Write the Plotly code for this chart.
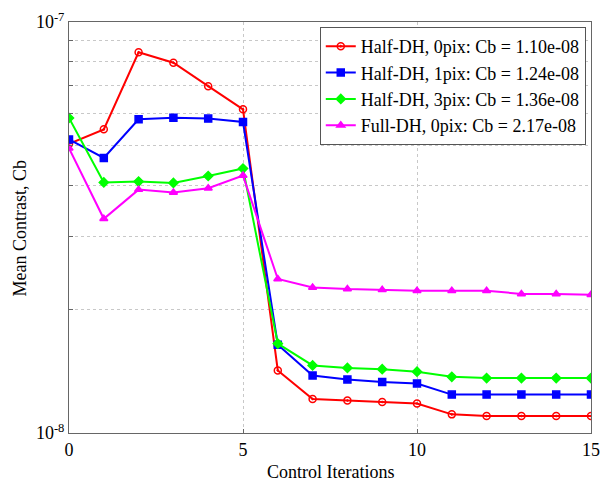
import plotly.graph_objects as go

iters = list(range(16))
red = [5.05e-8, 5.48e-8, 8.44e-8, 7.96e-8, 6.98e-8, 6.13e-8, 1.42e-8, 1.21e-8, 1.20e-8, 1.19e-8, 1.18e-8, 1.11e-8, 1.10e-8, 1.10e-8, 1.10e-8, 1.10e-8]
blue = [5.18e-8, 4.67e-8, 5.80e-8, 5.85e-8, 5.82e-8, 5.71e-8, 1.64e-8, 1.38e-8, 1.35e-8, 1.33e-8, 1.32e-8, 1.24e-8, 1.24e-8, 1.24e-8, 1.24e-8, 1.24e-8]
green = [5.84e-8, 4.07e-8, 4.09e-8, 4.06e-8, 4.22e-8, 4.40e-8, 1.65e-8, 1.46e-8, 1.44e-8, 1.43e-8, 1.41e-8, 1.37e-8, 1.36e-8, 1.36e-8, 1.36e-8, 1.36e-8]
magenta = [4.93e-8, 3.32e-8, 3.91e-8, 3.85e-8, 3.94e-8, 4.23e-8, 2.37e-8, 2.26e-8, 2.24e-8, 2.23e-8, 2.22e-8, 2.22e-8, 2.22e-8, 2.18e-8, 2.18e-8, 2.17e-8]
names = ["Half-DH, 0pix: Cb = 1.10e-08", "Half-DH, 1pix: Cb = 1.24e-08",
         "Half-DH, 3pix: Cb = 1.36e-08", "Full-DH, 0pix: Cb = 2.17e-08"]
colors = ["#ff0000", "#0000ff", "#00ff00", "#ff00ff"]
symbols = ["circle-open-dot", "square", "diamond", "triangle-up"]
ytickvals = [1e-8, 2e-8, 3e-8, 4e-8, 5e-8, 6e-8, 7e-8, 8e-8, 9e-8, 1e-7]
yticktext = ["10<sup>-8</sup>", "", "", "", "", "", "", "", "", "10<sup>-7</sup>"]
xtickvals = [0, 5, 10, 15]
ytitle = "Mean Contrast, Cb"
xtitle = "Control Iterations"

font = "Liberation Serif, Times New Roman, serif"
fig = go.Figure()
for ys, nm, c, s in zip([red, blue, green, magenta], names, colors, symbols):
    fig.add_trace(go.Scatter(
        x=iters, y=ys, name=nm, mode="lines+markers",
        line=dict(color=c, width=2),
        marker=dict(color=c, symbol=s, size=7, line=dict(color=c, width=1.5)),
    ))

axis_common = dict(showline=True, linecolor="#666666", linewidth=1, mirror=True,
                   ticks="inside", ticklen=4, tickcolor="#666666",
                   showgrid=True, gridcolor="#c8c8c8", griddash="dot", gridwidth=1,
                   zeroline=False, automargin=False,
                   tickfont=dict(family=font, size=18, color="black"))

fig.update_layout(
    width=600, height=483,
    margin=dict(l=69, r=9, t=22, b=50),
    paper_bgcolor="white", plot_bgcolor="white",
    font=dict(family=font, size=18, color="black"),
    xaxis=dict(range=[0, 15], tickvals=xtickvals, **axis_common),
    yaxis=dict(type="log", range=[-8, -7], tickvals=ytickvals, ticktext=yticktext,
               **axis_common),
    legend=dict(x=0.99, y=0.988, xanchor="right", yanchor="top",
                bgcolor="white", bordercolor="#555555", borderwidth=1,
                font=dict(family=font, size=18), tracegroupgap=0, itemwidth=30),
    showlegend=True,
    annotations=[
        dict(text=ytitle, xref="paper", yref="paper", x=-0.094, y=0.5,
             xanchor="center", yanchor="middle", textangle=-90, showarrow=False,
             font=dict(family=font, size=18, color="black")),
        dict(text=xtitle, xref="paper", yref="paper", x=0.5, y=-0.095,
             xanchor="center", yanchor="middle", showarrow=False,
             font=dict(family=font, size=18, color="black")),
    ],
)
fig.write_html("out.html", config={"displayModeBar": False},
               post_script="document.body.style.margin='0px';document.body.style.overflow='hidden';")
